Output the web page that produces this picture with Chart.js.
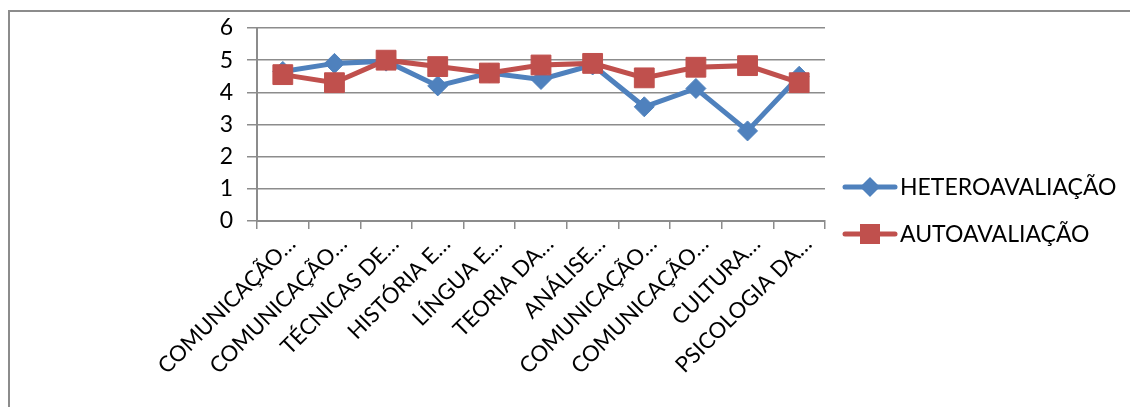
<!DOCTYPE html>
<html>
<head>
<meta charset="utf-8">
<script src="https://cdn.jsdelivr.net/npm/chart.js@4/dist/chart.umd.min.js"></script>
<style>
  html, body { margin: 0; padding: 0; background: #fff; overflow: hidden; }
  #wrap { position: relative; width: 1130px; height: 407px; }
  #frame { position: absolute; left: 8px; top: 10px; width: 1200px; height: 500px;
           border-top: 2px solid #8c8c8c; border-left: 2px solid #8c8c8c; }
  #myChart { position: absolute; left: 0; top: 0; }
</style>
</head>
<body>
<div id="wrap">
  <div id="frame"></div>
  <canvas id="myChart" width="1130" height="407"></canvas>
</div>
<script>
// disciplinas (rótulos truncados como no gráfico)
const categories = [
  'COMUNICAÇÃO…', 'COMUNICAÇÃO…', 'TÉCNICAS DE…', 'HISTÓRIA E…', 'LÍNGUA E…',
  'TEORIA DA…', 'ANÁLISE…', 'COMUNICAÇÃO…', 'COMUNICAÇÃO…', 'CULTURA…', 'PSICOLOGIA DA…'
];
const heteroavaliacao = [4.65, 4.9, 4.97, 4.2, 4.6, 4.4, 4.85, 3.55, 4.12, 2.8, 4.5];
const autoavaliacao   = [4.55, 4.3, 5.0, 4.8, 4.6, 4.85, 4.9, 4.45, 4.78, 4.83, 4.3];
const yTicks = [0, 1, 2, 3, 4, 5, 6];

const FONT = 'Lato, "Open Sans", sans-serif';
const GRID = '#8c8c8c';

// legenda à direita, desenhada à mão (linha + marcador + texto)
const legendPlugin = {
  id: 'sideLegend',
  afterDraw(chart) {
    const ctx = chart.ctx;
    const rows = [187, 234];
    chart.data.datasets.forEach(function (ds, i) {
      const y = rows[i];
      ctx.save();
      ctx.strokeStyle = ds.borderColor;
      ctx.lineWidth = 5;
      ctx.lineCap = 'round';
      ctx.beginPath();
      ctx.moveTo(845, y);
      ctx.lineTo(895, y);
      ctx.stroke();
      ctx.fillStyle = ds.pointBackgroundColor;
      ctx.beginPath();
      if (ds.pointStyle === 'rect') {
        ctx.rect(860, y - 10, 20, 20);
      } else {
        ctx.moveTo(870, y - 10); ctx.lineTo(880, y);
        ctx.lineTo(870, y + 10); ctx.lineTo(860, y);
        ctx.closePath();
      }
      ctx.fill();
      ctx.fillStyle = '#000';
      ctx.font = '23px ' + FONT;
      ctx.textBaseline = 'middle';
      ctx.fillText(ds.label, 900, y + 1);
      ctx.restore();
    });
  }
};

const ctx = document.getElementById('myChart').getContext('2d');
new Chart(ctx, {
  type: 'line',
  data: {
    labels: categories,
    datasets: [{
      label: 'HETEROAVALIAÇÃO',
      data: heteroavaliacao,
      borderColor: '#4F81BD',
      backgroundColor: '#4F81BD',
      pointBackgroundColor: '#4F81BD',
      pointBorderColor: '#4F81BD',
      borderWidth: 5,
      pointStyle: 'rectRot',
      pointRadius: 10,
      pointBorderWidth: 1,
      tension: 0,
      order: 1
    }, {
      label: 'AUTOAVALIAÇÃO',
      data: autoavaliacao,
      borderColor: '#C0504D',
      backgroundColor: '#C0504D',
      pointBackgroundColor: '#C0504D',
      pointBorderColor: '#C0504D',
      borderWidth: 5,
      pointStyle: 'rect',
      pointRadius: 14,
      pointBorderWidth: 1,
      tension: 0,
      order: 0
    }]
  },
  options: {
    responsive: false,
    animation: false,
    layout: { padding: { left: 0, top: 28, right: 305, bottom: 0 } },
    plugins: {
      legend: { display: false },
      tooltip: { enabled: false }
    },
    scales: {
      x: {
        offset: true,
        afterFit: function (s) { s.height = 186; },
        grid: { offset: true, drawOnChartArea: false, color: GRID, lineWidth: 1.5, tickLength: 8 },
        border: { color: GRID, width: 2 },
        ticks: {
          autoSkip: false,
          maxRotation: 45,
          minRotation: 45,
          labelOffset: 9,
          padding: 2,
          color: '#000',
          font: { family: FONT, size: 22 }
        }
      },
      y: {
        min: 0,
        max: 6,
        afterFit: function (s) { s.width = 257; },
        afterBuildTicks: function (s) { s.ticks = yTicks.map(function (v) { return { value: v }; }); },
        grid: { color: GRID, lineWidth: 1.5, tickLength: 10 },
        border: { color: GRID, width: 2 },
        ticks: {
          padding: 14,
          color: '#000',
          font: { family: FONT, size: 23 }
        }
      }
    }
  },
  plugins: [legendPlugin]
});
</script>
</body>
</html>
